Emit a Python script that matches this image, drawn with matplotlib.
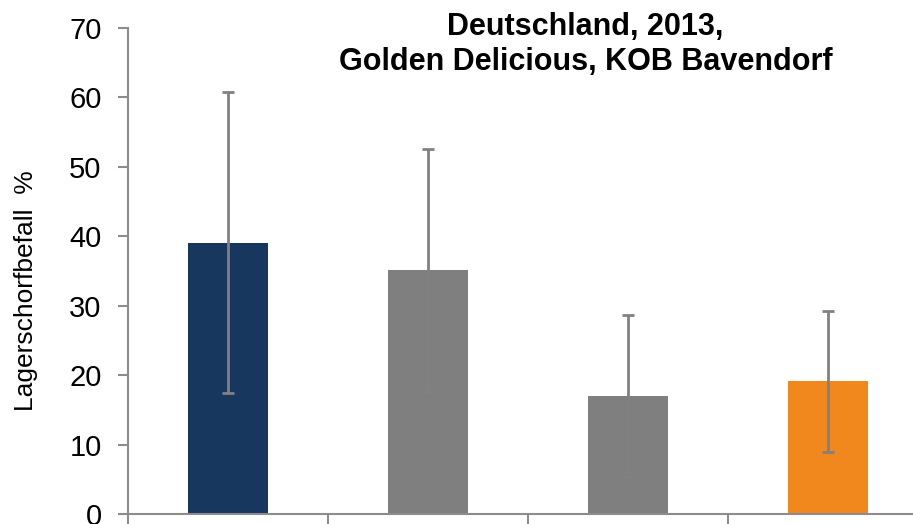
import matplotlib.pyplot as plt
import numpy as np

plt.rcParams['font.family'] = ['Liberation Sans', 'DejaVu Sans']

# Werte
werte = [39.1, 35.1, 17.0, 19.1]
fehler = [21.7, 17.5, 11.6, 10.1]
farben = ["#17375E", "#7F7F7F", "#7F7F7F", "#F0881E"]
titel = "Deutschland, 2013,\nGolden Delicious, KOB Bavendorf"
y_label = "Lagerschorfbefall  %"

fig = plt.figure(figsize=(9.13, 5.24), dpi=100)
# rechte Kante liegt ausserhalb des Bildes wie im Original
ax = fig.add_axes([128 / 913, (524 - 514) / 524, 800 / 913, 486 / 524])

x = np.arange(len(werte))
ax.bar(x, werte, width=0.4, color=farben, zorder=2)
ax.errorbar(x, werte, yerr=fehler, fmt="none", ecolor="#818181",
            elinewidth=2, capsize=4.3, capthick=2, zorder=3)

ax.set_xlim(-0.5, len(werte) - 0.5)
ax.set_ylim(0, 70)
ax.set_yticks(range(0, 71, 10))
ax.set_xticks(np.arange(len(werte)) - 0.5)
ax.set_xticklabels([])

for s in ["top", "right"]:
    ax.spines[s].set_visible(False)
for s in ["left", "bottom"]:
    ax.spines[s].set_color("#8C8C8C")
    ax.spines[s].set_linewidth(1.5)
ax.tick_params(axis="y", colors="#8C8C8C", labelcolor="black", labelsize=21,
               length=7, width=1.5, pad=12)
ax.tick_params(axis="x", colors="#8C8C8C", length=8, width=1.5)

ax.set_ylabel(y_label, fontsize=19)
ax.yaxis.set_label_coords(-0.113, 0.46)
ax.text(0.572, 1.033, titel, transform=ax.transAxes, ha="center", va="top",
        fontsize=22, fontweight="bold", linespacing=1.22)

fig.savefig("out.png", dpi=100)
